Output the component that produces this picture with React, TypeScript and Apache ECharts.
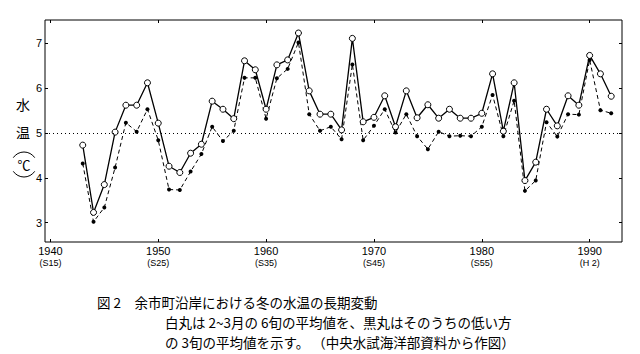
import React, { useEffect, useRef } from "react";
import * as echarts from "echarts";

const years = [
  1943, 1944, 1945, 1946, 1947, 1948, 1949, 1950, 1951, 1952,
  1953, 1954, 1955, 1956, 1957, 1958, 1959, 1960, 1961, 1962,
  1963, 1964, 1965, 1966, 1967, 1968, 1969, 1970, 1971, 1972,
  1973, 1974, 1975, 1976, 1977, 1978, 1979, 1980, 1981, 1982,
  1983, 1984, 1985, 1986, 1987, 1988, 1989, 1990, 1991, 1992,
];

// 白丸: 2~3月の6旬の平均値
const whiteMean = [
  4.73, 3.23, 3.85, 5.02, 5.62, 5.62, 6.12, 5.22, 4.26, 4.12,
  4.55, 4.75, 5.71, 5.53, 5.32, 6.61, 6.41, 5.53, 6.52, 6.63,
  7.23, 5.94, 5.42, 5.42, 5.07, 7.11, 5.25, 5.35, 5.83, 5.14,
  5.94, 5.34, 5.63, 5.33, 5.53, 5.33, 5.33, 5.44, 6.32, 5.04,
  6.12, 3.94, 4.35, 5.53, 5.16, 5.83, 5.62, 6.73, 6.32, 5.82,
];

// 黒丸: そのうちの低い方の3旬の平均値
const blackMean = [
  4.32, 3.02, 3.34, 4.23, 5.23, 5.03, 5.53, 4.84, 3.74, 3.73,
  4.14, 4.53, 5.14, 4.82, 5.05, 6.23, 6.23, 5.32, 6.22, 6.43,
  7.02, 5.42, 5.05, 5.14, 4.86, 6.53, 4.84, 5.16, 5.53, 5.01,
  5.42, 4.93, 4.64, 5.03, 4.93, 4.94, 4.93, 5.14, 5.85, 4.93,
  5.72, 3.71, 3.94, 5.24, 4.92, 5.42, 5.41, 6.63, 5.51, 5.44,
];

const yTicks = [3, 4, 5, 6, 7];
const xTicks = [1940, 1950, 1960, 1970, 1980, 1990];
const eraLabels = ["S15", "S25", "S35", "S45", "S55", "H 2"];
const referenceValue = 5;

const captionTitle = "図 2　余市町沿岸における冬の水温の長期変動";
const captionBody = [
  "白丸は 2~3月の 6旬の平均値を、黒丸はそのうちの低い方",
  "の 3旬の平均値を示す。 （中央水試海洋部資料から作図）",
];

const CJK = "'Noto Sans CJK JP', 'Noto Sans', sans-serif";
const NUM = "'Liberation Sans', 'DejaVu Sans', sans-serif";

export default function App() {
  const ref = useRef<HTMLDivElement>(null);

  useEffect(() => {
    if (!ref.current) return;
    const chart = echarts.init(ref.current, undefined, { renderer: "svg" });

    const whiteData = years.map((y, i) => [y, whiteMean[i]]);
    const blackData = years.map((y, i) => [y, blackMean[i]]);

    const tickStyle = { color: "#000", width: 1 };

    const option: any = {
      animation: false,
      backgroundColor: "#fff",
      grid: {
        left: 45,
        right: 18,
        top: 20,
        bottom: 112,
        show: true,
        borderColor: "#000",
        borderWidth: 1,
        backgroundColor: "transparent",
      },
      xAxis: [
        {
          type: "value",
          min: 1939.5,
          max: 1993,
          position: "bottom",
          splitLine: { show: false },
          axisLine: { show: false },
          axisTick: {
            show: true,
            inside: true,
            length: 3,
            customValues: xTicks,
            lineStyle: tickStyle,
          },
          axisLabel: {
            customValues: xTicks,
            margin: 3,
            color: "#000",
            formatter: (v: number) => {
              const idx = xTicks.indexOf(Math.round(v));
              const era = idx >= 0 ? eraLabels[idx] : "";
              return `{y|${Math.round(v)}}\n{e|(${era})}`;
            },
            rich: {
              y: { fontSize: 11, fontFamily: NUM, lineHeight: 12, color: "#000" },
              e: { fontSize: 9, fontFamily: NUM, lineHeight: 12, color: "#000" },
            },
          },
        },
        {
          type: "value",
          min: 1939.5,
          max: 1993,
          position: "top",
          splitLine: { show: false },
          axisLine: { show: false },
          axisTick: {
            show: true,
            inside: true,
            length: 3,
            customValues: xTicks,
            lineStyle: tickStyle,
          },
          axisLabel: { show: false },
        },
      ],
      yAxis: [
        {
          type: "value",
          min: 2.57,
          max: 7.52,
          position: "left",
          splitLine: { show: false },
          axisLine: { show: false },
          axisTick: {
            show: true,
            inside: true,
            length: 3,
            customValues: yTicks,
            lineStyle: tickStyle,
          },
          axisLabel: {
            customValues: yTicks,
            margin: 3,
            fontSize: 11,
            fontFamily: NUM,
            color: "#000",
          },
        },
        {
          type: "value",
          min: 2.57,
          max: 7.52,
          position: "right",
          splitLine: { show: false },
          axisLine: { show: false },
          axisTick: {
            show: true,
            inside: true,
            length: 3,
            customValues: yTicks,
            lineStyle: tickStyle,
          },
          axisLabel: { show: false },
        },
      ],
      series: [
        {
          name: "黒丸",
          type: "line",
          data: blackData,
          xAxisIndex: 0,
          yAxisIndex: 0,
          symbol: "circle",
          symbolSize: 4,
          itemStyle: { color: "#000", borderColor: "#000", borderWidth: 0 },
          lineStyle: { color: "#000", width: 1, type: [4, 3] },
          z: 2,
          markLine: {
            silent: true,
            symbol: "none",
            label: { show: false },
            lineStyle: { color: "#000", width: 1, type: [1, 3] },
            data: [{ yAxis: referenceValue }],
          },
        },
        {
          name: "白丸",
          type: "line",
          data: whiteData,
          xAxisIndex: 0,
          yAxisIndex: 0,
          symbol: "circle",
          symbolSize: 6,
          itemStyle: { color: "#fff", borderColor: "#000", borderWidth: 1 },
          lineStyle: { color: "#000", width: 1.3, type: "solid" },
          z: 3,
        },
      ],
      graphic: [
        {
          type: "text",
          left: 16,
          top: 97,
          style: { text: "水", font: `14px ${CJK}`, fill: "#000" },
        },
        {
          type: "text",
          left: 16,
          top: 125,
          style: { text: "温", font: `14px ${CJK}`, fill: "#000" },
        },
        {
          type: "arc",
          shape: { cx: 24, cy: 165, r: 13, startAngle: Math.PI + 0.6, endAngle: 2 * Math.PI - 0.6, clockwise: true },
          style: { stroke: "#000", fill: "none", lineWidth: 1 },
        },
        {
          type: "arc",
          shape: { cx: 24, cy: 164, r: 13, startAngle: 0.6, endAngle: Math.PI - 0.6, clockwise: true },
          style: { stroke: "#000", fill: "none", lineWidth: 1 },
        },
        {
          type: "text",
          x: 24,
          y: 164,
          style: {
            text: "℃",
            font: `13px ${CJK}`,
            fill: "#000",
            align: "center",
            verticalAlign: "middle",
          },
        },
        {
          type: "text",
          x: 97,
          y: 302,
          style: { text: captionTitle, font: `13.5px ${CJK}`, fill: "#000", verticalAlign: "middle" },
        },
        {
          type: "text",
          x: 165,
          y: 321.8,
          style: { text: captionBody[0], font: `13.5px ${CJK}`, fill: "#000", verticalAlign: "middle" },
        },
        {
          type: "text",
          x: 165,
          y: 341.6,
          style: { text: captionBody[1], font: `13.5px ${CJK}`, fill: "#000", verticalAlign: "middle" },
        },
      ],
    };

    chart.setOption(option);
    return () => chart.dispose();
  }, []);

  return (
    <div
      ref={ref}
      style={{ position: "fixed", left: 0, top: 0, width: 640, height: 354, background: "#fff" }}
    />
  );
}
